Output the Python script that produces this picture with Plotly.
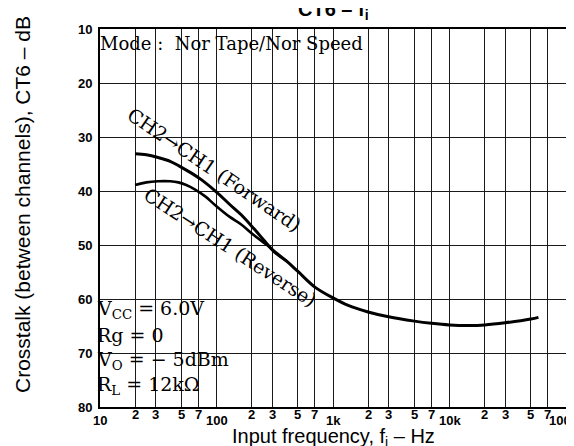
import numpy as np
import plotly.graph_objects as go

# ---------------- data ----------------
fwd_freq = [20, 25, 31.5, 40, 48, 60, 74, 100, 130, 163, 210, 260, 300, 400, 500, 700,
            1000, 1350, 2000, 3000, 5000, 7000, 10000, 15000, 20000, 30000, 50000, 58000]
fwd_db = [33.1, 33.3, 33.8, 34.5, 35.4, 36.6, 37.9, 40.2, 42.5, 44.4, 47.0, 49.3, 50.8, 53.0,
          54.9, 57.8, 59.8, 61.2, 62.4, 63.3, 64.1, 64.5, 64.8, 64.9, 64.8, 64.4, 63.7, 63.4]

rev_freq = [20, 25, 31.5, 40, 47, 55, 65, 80, 96, 130, 163, 210, 278, 320, 400]
rev_db = [38.9, 38.4, 38.2, 38.2, 38.4, 38.9, 39.7, 41.0, 42.5, 44.8, 46.2, 48.2, 50.2, 51.5, 53.0]

x_grid = [10, 20, 30, 50, 70, 100, 200, 300, 500, 700, 1000, 2000, 3000, 5000, 7000,
          10000, 20000, 30000, 50000, 70000, 100000]
x_major_vals = [10, 100, 1000, 10000, 100000]
x_major_text = ["10", "100", "1k", "10k", "100k"]
x_minor_vals = [20, 30, 50, 70, 200, 300, 500, 700, 2000, 3000, 5000, 7000,
                20000, 30000, 50000, 70000]
x_minor_text = ["2", "3", "5", "7"] * 4

y_vals = [10, 20, 30, 40, 50, 60, 70, 80]
y_text = ["10", "20", "30", "40", "50", "60", "70", "80"]

cond_lines = ["V<sub>CC</sub> = 6.0V", "Rg = 0", "V<sub>O</sub> = − 5dBm", "R<sub>L</sub> = 12kΩ"]
cond_db = [62.0, 66.6, 71.3, 76.0]

SERIF = "DejaVu Serif"
SANS = "Liberation Sans, Arial"

fig = go.Figure()
fig.add_trace(go.Scatter(x=fwd_freq, y=fwd_db, mode="lines", line=dict(color="black", width=3, shape="spline"),
                         showlegend=False, hoverinfo="skip"))
fig.add_trace(go.Scatter(x=rev_freq, y=rev_db, mode="lines", line=dict(color="black", width=2.6, shape="spline"),
                         showlegend=False, hoverinfo="skip"))

# white boxes hiding grid behind the text blocks
fig.add_shape(type="rect", xref="paper", yref="y", x0=0, x1=0.615, y0=10, y1=15.7,
              fillcolor="white", line=dict(width=0), layer="between")
fig.add_shape(type="rect", xref="paper", yref="y", x0=0, x1=0.292, y0=60.25, y1=80,
              fillcolor="white", line=dict(width=0), layer="between")

ann = []
for v, t in zip(x_major_vals, x_major_text):
    last = (v == x_major_vals[-1])
    ann.append(dict(x=np.log10(v), xref="x", y=0, yref="paper", yanchor="top", yshift=-5,
                    xanchor=("right" if last else "center"), xshift=(14 if last else 0), borderpad=0,
                    text="<b>%s</b>" % t, showarrow=False, font=dict(family=SANS, size=13, color="black")))
for v, t in zip(x_minor_vals, x_minor_text):
    ann.append(dict(x=np.log10(v), xref="x", y=0, yref="paper", yanchor="top", yshift=1, borderpad=0,
                    text="<b>%s</b>" % t, showarrow=False, font=dict(family=SANS, size=13, color="black")))

ann.append(dict(x=0.5, xref="paper", y=1, yref="paper", yanchor="bottom", yshift=4,
                text="<b>CT6 – f<sub>i</sub></b>", showarrow=False, font=dict(family=SANS, size=20, color="black")))
ann.append(dict(x=-0.1717, xref="paper", xanchor="center", xshift=2, y=0.537, yref="paper", yanchor="middle",
                textangle=-90, text="Crosstalk (between channels), CT6 – dB", showarrow=False,
                font=dict(family=SANS, size=21, color="black")))
ann.append(dict(x=0.5, xref="paper", xanchor="center", y=-0.08, yref="paper", yanchor="middle", borderpad=0,
                text="Input frequency, f<sub>i</sub> – Hz", showarrow=False,
                font=dict(family=SANS, size=20, color="black")))

ann.append(dict(x=0, xref="paper", xanchor="left", xshift=-2, y=12.6, yref="y",
                text="Mode :  Nor Tape/Nor Speed", showarrow=False,
                font=dict(family=SERIF, size=18, color="black")))
for t, d in zip(cond_lines, cond_db):
    ann.append(dict(x=0, xref="paper", xanchor="left", xshift=-5, y=d, yref="y",
                    text=t, showarrow=False, font=dict(family=SERIF, size=19, color="black")))

ann.append(dict(x=np.log10(97), xref="x", y=36.1, yref="y", textangle=34,
                text="CH2→CH1 (Forward)", showarrow=False, font=dict(family=SERIF, size=19, color="black")))
ann.append(dict(x=np.log10(131), xref="x", y=50.35, yref="y", textangle=33,
                text="CH2→CH1 (Reverse)", showarrow=False, font=dict(family=SERIF, size=19, color="black")))

fig.update_layout(
    width=574, height=446,
    margin=dict(l=92, r=16, t=21, b=47),
    paper_bgcolor="white", plot_bgcolor="white",
    annotations=ann,
    showlegend=False,
)
fig.update_xaxes(type="log", range=[1, 5], tickvals=x_grid, showticklabels=False,
                 showgrid=True, gridcolor="#1a1a1a", gridwidth=1,
                 showline=True, linecolor="black", linewidth=2, mirror=True, ticks="", zeroline=False)
fig.update_yaxes(range=[80, 10], tickvals=y_vals, ticktext=["<b>%s</b>" % t for t in y_text],
                 tickfont=dict(family=SANS, size=13, color="black"), ticklabelstandoff=3,
                 showgrid=True, gridcolor="#1a1a1a", gridwidth=1,
                 showline=True, linecolor="black", linewidth=2, mirror=True, ticks="", zeroline=False)

fig.write_html("out.html")
